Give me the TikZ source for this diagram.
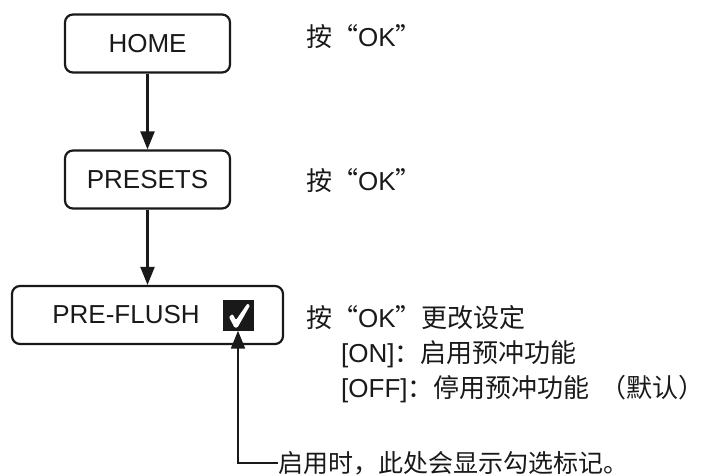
\documentclass[tikz,border=0pt]{standalone}
\usepackage{fontspec}
\setmainfont{Liberation Sans}
\newfontfamily\cjk{Noto Sans CJK SC}
\newcommand{\zh}[1]{{\cjk #1}}
\usetikzlibrary{arrows.meta}
\begin{document}
\begin{tikzpicture}[x=1pt,y=-1pt,
  every node/.style={font=\fontsize{26pt}{31pt}\selectfont, text=black!90},
  menubox/.style={draw=black!90, line width=2.2pt, rounded corners=8pt, minimum height=58pt, inner sep=0pt},
  arr/.style={draw=black!90, line width=2.2pt, -{Triangle[width=14pt,length=18pt]}},
  desc/.style={anchor=base west, inner sep=0pt}]
\useasboundingbox (0,0) rectangle (704,475);

\node[menubox, minimum width=165pt] (home) at (147.5,43.5) {HOME};
\node[menubox, minimum width=165pt] (presets) at (147.5,179.5) {PRESETS};
\node[menubox, minimum width=271pt] (pf) at (147.5,315) {};
\node[inner sep=0pt] (pflabel) at (126,315) {PRE-FLUSH};
\node[fill=black!90, minimum size=31pt, inner sep=0pt] (chk) at (238,315) {};
\fill[white, rounded corners=1pt] ([shift={(-9,2)}]chk.center) -- ([shift={(-5.5,-1)}]chk.center)
  -- ([shift={(-2,5)}]chk.center) -- ([shift={(9.5,-11.5)}]chk.center)
  -- ([shift={(12,-9.5)}]chk.center) -- ([shift={(-0.5,12.5)}]chk.center)
  -- ([shift={(-3.5,12.5)}]chk.center) -- cycle;

\draw[arr] (home.south) -- (presets.north);
\draw[arr] (presets.south) -- (pf.north);

\node[desc] (t1) at (306,46.5) {\zh{按“}OK\zh{”}};
\node[desc] (t2) at (306,190.5) {\zh{按“}OK\zh{”}};
\node[desc] (t3) at (306,327.5) {\zh{按“}OK\zh{”更改设定}};
\node[desc] (t4) at (341,362.5) {[ON]\zh{：启用预冲功能}};
\node[desc] (t5) at (341,397.5) {[OFF]\zh{：停用预冲功能}\hspace{0.4em}\zh{（默认）}};
\node[desc, font=\fontsize{25pt}{30pt}\selectfont] (note) at (278,472) {\zh{启用时，此处会显示勾选标记。}};

\draw[arr] (note.west) -| (chk.south);
\end{tikzpicture}
\end{document}
